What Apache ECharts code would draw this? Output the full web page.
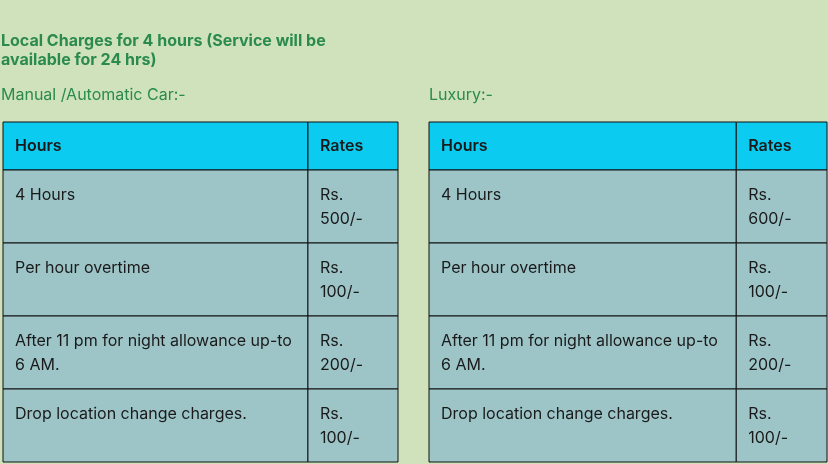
<!DOCTYPE html>
<html><head><meta charset="utf-8">
<script src="https://cdn.jsdelivr.net/npm/echarts@6/dist/echarts.min.js"></script>
<style>html,body{margin:0;background:#cfe2bc}#c{width:828px;height:464px}</style>
</head><body><div id="c"></div>
<script>
const headers = ['Hours', 'Rates'];
const items = ['4 Hours', 'Per hour overtime', 'After 11 pm for night allowance up-to\n6 AM.', 'Drop location change charges.'];
const manualRates = ['Rs.\n500/-', 'Rs.\n100/-', 'Rs.\n200/-', 'Rs.\n100/-'];
const luxuryRates = ['Rs.\n600/-', 'Rs.\n100/-', 'Rs.\n200/-', 'Rs.\n100/-'];
const rowHeights = [48, 73, 73, 73, 73];
const colFrac = [0, 0.772, 1];

function tableData(rates){
  const d=[];
  let y=0;
  rowHeights.forEach((h,r)=>{
    for(let c=0;c<2;c++){
      const txt = r===0 ? headers[c] : (c===0 ? items[r-1] : rates[r-1]);
      d.push({value:[colFrac[c], y, colFrac[c+1], y+h, r], name:txt});
    }
    y+=h;
  });
  return d;
}
function renderItem(params, api){
  const p0 = api.coord([api.value(0), api.value(1)]);
  const p1 = api.coord([api.value(2), api.value(3)]);
  const r = api.value(4);
  const name = option.series[params.seriesIndex].data[params.dataIndex].name;
  return {type:'group', children:[
    {type:'rect', shape:{x:p0[0], y:p0[1], width:p1[0]-p0[0], height:p1[1]-p0[1]},
     style:{fill: r===0 ? '#0ccbf0' : '#9dc5c8', stroke:'#111', lineWidth:1}},
    {type:'text', x:p0[0]+12, y: r===0 ? (p0[1]+p1[1])/2 : p0[1]+13,
     style:{text:name, fill:'#1a1a1a', font:(r===0?'600 ':'400 ')+'16px Inter', lineHeight:24,
       verticalAlign: r===0 ? 'middle' : 'top'}}
  ]};
}
const total = rowHeights.reduce((a,b)=>a+b,0);
const option = {
  animation:false,
  backgroundColor:'#cfe2bc',
  title:[
    {text:'Local Charges for 4 hours (Service will be\navailable for 24 hrs)', left:1, top:32, padding:0,
     textStyle:{color:'#2b8a4e', fontSize:16, fontWeight:'bold', fontFamily:'Inter', lineHeight:19}},
    {text:'Manual /Automatic Car:-', left:1, top:87, padding:0, textStyle:{color:'#2b8a4e', fontSize:16, fontWeight:'normal', fontFamily:'Inter'}},
    {text:'Luxury:-', left:429, top:87, padding:0, textStyle:{color:'#2b8a4e', fontSize:16, fontWeight:'normal', fontFamily:'Inter'}}
  ],
  grid:[{left:3, top:122, width:395, height:total},{left:429, top:122, width:398, height:total}],
  xAxis:[{type:'value',gridIndex:0,min:0,max:1,show:false},{type:'value',gridIndex:1,min:0,max:1,show:false}],
  yAxis:[{type:'value',gridIndex:0,min:0,max:total,inverse:true,show:false},{type:'value',gridIndex:1,min:0,max:total,inverse:true,show:false}],
  series:[
    {type:'custom', xAxisIndex:0, yAxisIndex:0, renderItem, data:tableData(manualRates)},
    {type:'custom', xAxisIndex:1, yAxisIndex:1, renderItem, data:tableData(luxuryRates)}
  ]
};
echarts.init(document.getElementById('c')).setOption(option);
</script></body></html>
